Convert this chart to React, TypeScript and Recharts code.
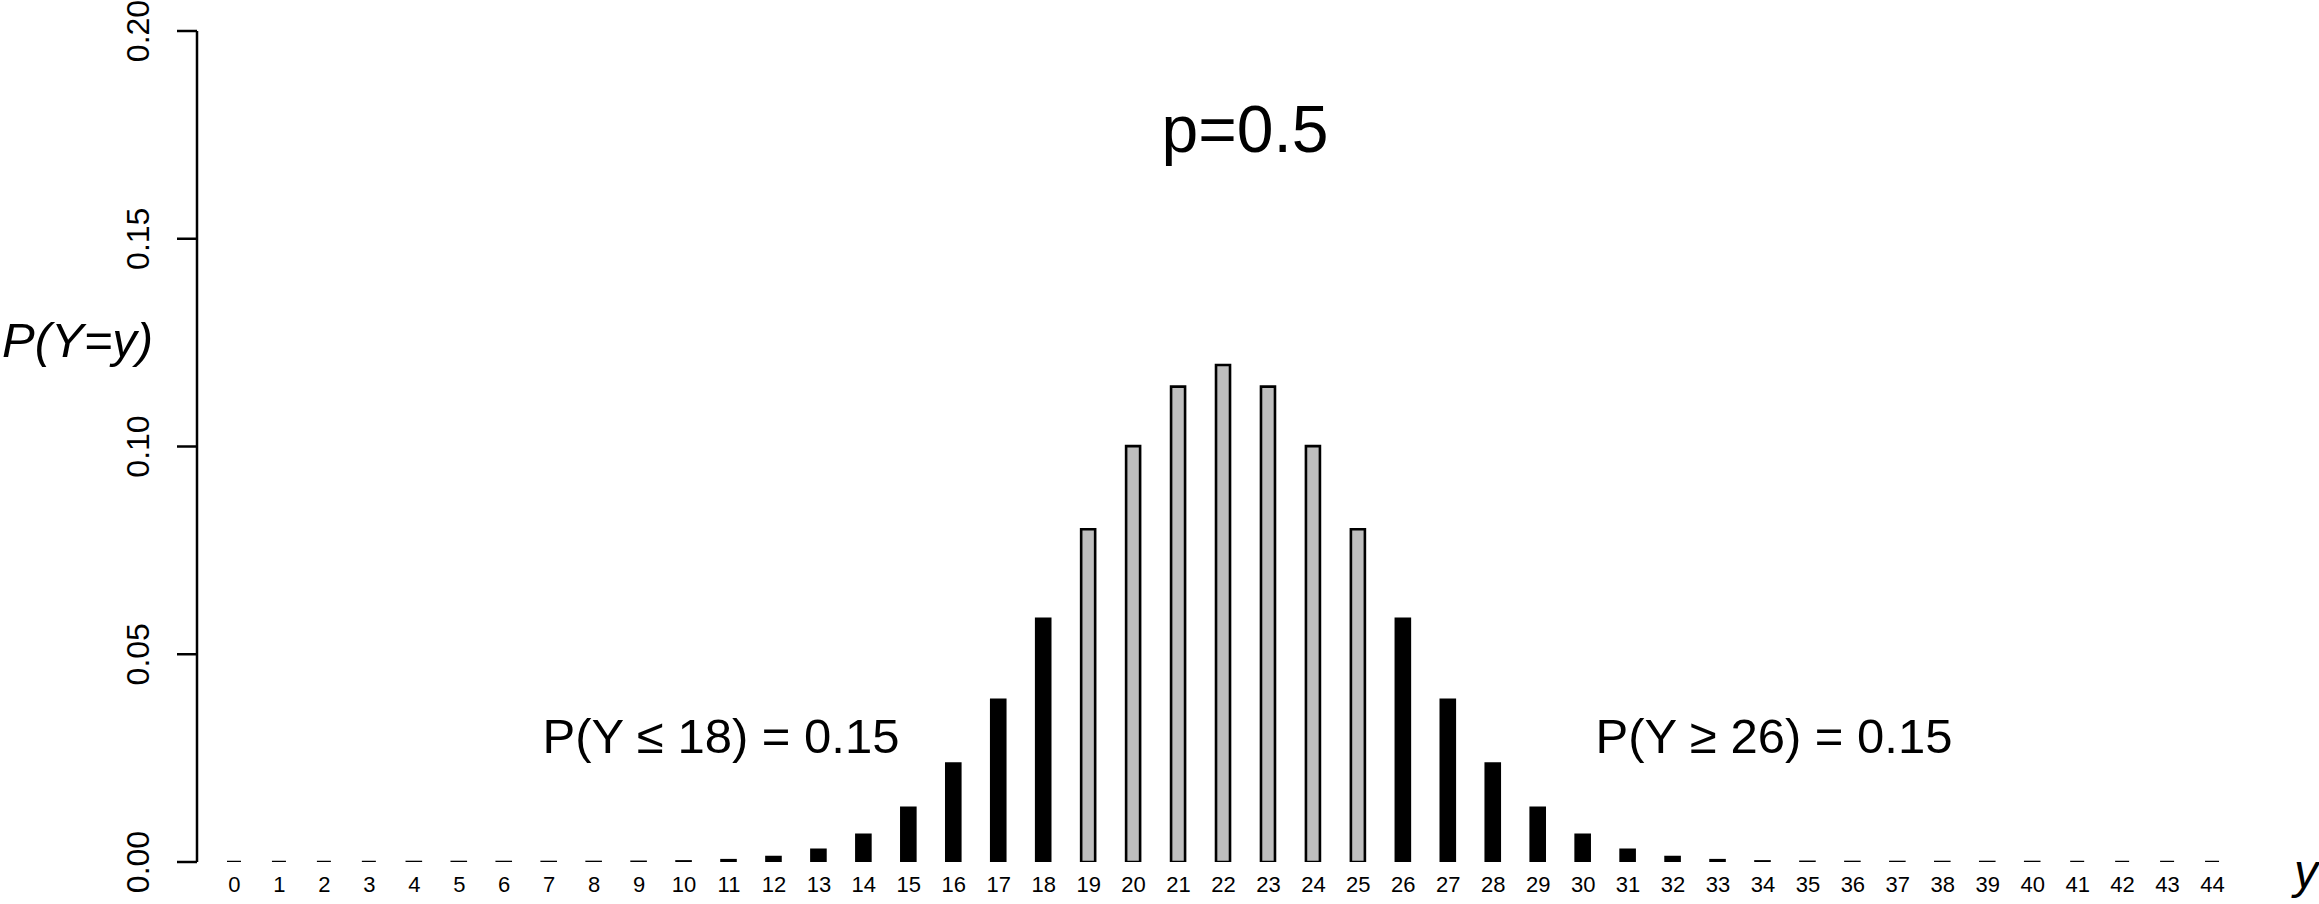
import React from 'react';
import { BarChart, Bar, XAxis, YAxis, Customized } from 'recharts';

// Outcomes y = 0..44 of Y ~ Binomial(44, 0.5)
const outcomes: number[] = [
  0, 1, 2, 3, 4, 5, 6, 7, 8, 9, 10, 11, 12, 13, 14, 15, 16, 17, 18, 19, 20, 21,
  22, 23, 24, 25, 26, 27, 28, 29, 30, 31, 32, 33, 34, 35, 36, 37, 38, 39, 40,
  41, 42, 43, 44,
];

// P(Y = y)
const probabilities: number[] = [
  0.000000000000057, 0.0000000000025, 0.000000000054, 0.00000000076,
  0.0000000078, 0.000000062, 0.0000004, 0.0000022, 0.00001, 0.00004,
  0.000141, 0.000436, 0.001199, 0.002951, 0.006535, 0.01307, 0.02369,
  0.03902, 0.05852, 0.08008, 0.1001, 0.1144, 0.1196, 0.1144, 0.1001,
  0.08008, 0.05852, 0.03902, 0.02369, 0.01307, 0.006535, 0.002951,
  0.001199, 0.000436, 0.000141, 0.00004, 0.00001, 0.0000022, 0.0000004,
  0.000000062, 0.0000000078, 0.00000000076, 0.000000000054,
  0.0000000000025, 0.000000000000057,
];

const yTicks: number[] = [0, 0.05, 0.1, 0.15, 0.2];
const yTickLabels: string[] = ['0.00', '0.05', '0.10', '0.15', '0.20'];

const lowerCut = 18;
const upperCut = 26;
const titleText = 'p=0.5';
const lowerNote = 'P(Y \u2264 18) = 0.15';
const upperNote = 'P(Y \u2265 26) = 0.15';
const yAxisTitle = 'P(Y=y)';
const xAxisTitle = 'y';

const data = outcomes.map((y, i) => ({ y: String(y), value: probabilities[i], k: y }));

const FONT = '"Liberation Sans", Arial, Helvetica, sans-serif';
const TAIL = '#000000';
const MID = '#BEBEBE';

const BarShape = (props: any) => {
  const { x, y, width, height, payload } = props;
  const k = payload.k;
  const fill = k <= lowerCut || k >= upperCut ? TAIL : MID;
  const h = Math.max(0, height || 0);
  const top = y + (height || 0) - h;
  const d = `M${x},${top} h${width} v${h} h${-width} Z`;
  return <path d={d} fill={fill} stroke="#000" strokeWidth={2.6} strokeLinejoin="miter" />;
};

const YTick = (props: any) => {
  const { x, y, payload, index } = props;
  const label = yTickLabels[index] ?? String(payload.value);
  return (
    <text
      x={x}
      y={y}
      transform={`rotate(-90 ${x} ${y})`}
      textAnchor="middle"
      fontSize={32}
      fontFamily={FONT}
      fill="#000"
    >
      {label}
    </text>
  );
};

const XTick = (props: any) => {
  const { x, y, payload } = props;
  return (
    <text x={x} y={y + 30} textAnchor="middle" fontSize={22} fontFamily={FONT} fill="#000">
      {payload.value}
    </text>
  );
};

const Annotations = () => (
  <g fontFamily={FONT} fill="#000">
    <text x={1245} y={152} textAnchor="middle" fontSize={66}>
      {titleText}
    </text>
    <text x={721} y={753} textAnchor="middle" fontSize={49}>
      {lowerNote}
    </text>
    <text x={1774} y={753} textAnchor="middle" fontSize={49}>
      {upperNote}
    </text>
    <text x={2} y={357} textAnchor="start" fontSize={49} fontStyle="italic">
      {yAxisTitle}
    </text>
    <text x={2306} y={888} textAnchor="middle" fontSize={48} fontStyle="italic">
      {xAxisTitle}
    </text>
  </g>
);

export default function App() {
  return (
    <div style={{ position: 'absolute', left: 0, top: 0, width: 2319, height: 904, background: '#fff' }}>
      <BarChart
        width={2319}
        height={904}
        data={data}
        margin={{ top: 31, right: 79, bottom: 0, left: 0 }}
        barSize={14}
      >
        <XAxis
          dataKey="y"
          type="category"
          interval={0}
          axisLine={false}
          tickLine={false}
          tickSize={0}
          tickMargin={0}
          height={42}
          padding={{ left: 15, right: 5 }}
          tick={<XTick />}
        />
        <YAxis
          type="number"
          domain={[0, 0.2]}
          ticks={yTicks}
          width={197}
          tickSize={20}
          tickMargin={28}
          axisLine={{ stroke: '#000', strokeWidth: 2.5 }}
          tickLine={{ stroke: '#000', strokeWidth: 2.5 }}
          tick={<YTick />}
          allowDataOverflow
        />
        <Bar dataKey="value" isAnimationActive={false} shape={<BarShape />} />
        <Customized component={Annotations} />
      </BarChart>
    </div>
  );
}
